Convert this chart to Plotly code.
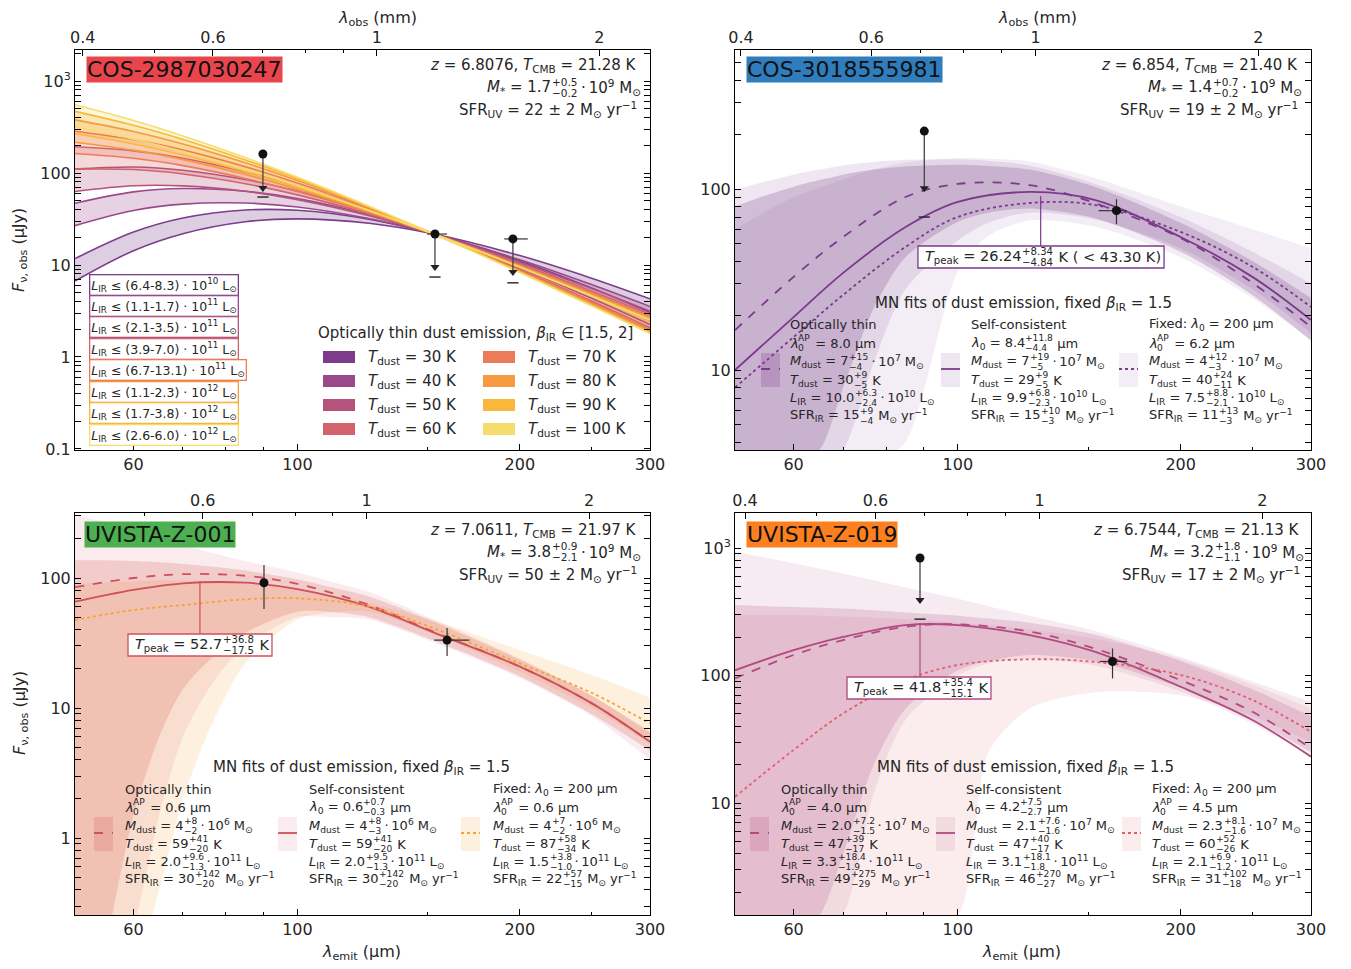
import math
import plotly.graph_objects as go

OFF = 8                      # default page margin of the html body
W, H = 1351 - OFF, 969 - OFF
FONT = "DejaVu Sans"
TXT = "#262626"

# ---------------- data ----------------
lam = [50, 60, 70, 85, 100, 125, 153, 200, 250, 300]
lam_band = [50, 55, 60, 65, 70, 77, 85, 100, 110, 125, 153, 200, 250, 300]

# Panel A: COS-2987030247, optically thin curves, beta 1.5 / 2
A_T30_b15 = [6.70, 14.3, 21.9, 29.5, 31.7, 28.4, 21.7, 12.65, 7.19, 4.29]
A_T30_b20 = [11.72, 22.8, 32.4, 39.6, 39.3, 31.4, 21.7, 11.07, 5.63, 3.06]
A_T40_b15 = [26.8, 39.1, 45.9, 47.2, 42.7, 31.9, 21.7, 11.39, 6.12, 3.54]
A_T40_b20 = [46.9, 62.4, 67.9, 63.4, 52.9, 35.3, 21.7, 9.97, 4.79, 2.53]
A_T50_b15 = [63.0, 72.7, 72.5, 63.2, 51.3, 34.3, 21.7, 10.68, 5.55, 3.15]
A_T50_b20 = [110.2, 116.1, 107.2, 84.9, 63.5, 37.9, 21.7, 9.35, 4.35, 2.25]
A_T60_b15 = [110.3, 109.0, 97.7, 76.5, 57.8, 35.9, 21.7, 10.25, 5.21, 2.92]
A_T60_b20 = [192.9, 174.1, 144.5, 102.7, 71.6, 39.7, 21.7, 8.96, 4.07, 2.08]
A_T70_b15 = [162.7, 144.4, 120.2, 87.3, 62.9, 37.1, 21.7, 9.95, 4.98, 2.77]
A_T70_b20 = [284.5, 230.6, 177.8, 117.2, 77.8, 41.1, 21.7, 8.70, 3.89, 1.98]
A_T80_b15 = [216.0, 177.1, 139.8, 96.2, 66.8, 38.0, 21.7, 9.74, 4.82, 2.66]
A_T80_b20 = [377.6, 282.9, 206.6, 129.1, 82.7, 42.1, 21.7, 8.52, 3.77, 1.90]
A_T90_b15 = [267.5, 206.7, 156.6, 103.4, 70.0, 38.7, 21.7, 9.58, 4.69, 2.58]
A_T90_b20 = [467.6, 330.1, 231.5, 138.8, 86.6, 42.8, 21.7, 8.38, 3.67, 1.84]
A_T100_b15 = [315.9, 233.1, 171.1, 109.5, 72.5, 39.3, 21.7, 9.45, 4.60, 2.52]
A_T100_b20 = [552.2, 372.2, 252.9, 147.0, 89.8, 43.5, 21.7, 8.27, 3.60, 1.80]
A_tdust = [30, 40, 50, 60, 70, 80, 90, 100]
A_colors = ["#7b3d8c", "#9a4a8a", "#b5537c", "#d3636c", "#ec7b59", "#f69a3f", "#f9b83b", "#f5dd6c"]
A_lir = ["(6.4-8.3) · 10<sup>10</sup>", "(1.1-1.7) · 10<sup>11</sup>", "(2.1-3.5) · 10<sup>11</sup>",
         "(3.9-7.0) · 10<sup>11</sup>", "(6.7-13.1) · 10<sup>11</sup>", "(1.1-2.3) · 10<sup>12</sup>",
         "(1.7-3.8) · 10<sup>12</sup>", "(2.6-6.0) · 10<sup>12</sup>"]
A_ul_lam = [89.8, 153.5, 195.7]
A_ul_val = [161, 21.7, 19.2]
A_ul_tip = [68.7, 9.5, 8.4]
A_ul_dash = [54.8, 7.4, 6.4]
A_ul_xerr_lo = [0, 3.7, 5.2]
A_ul_xerr_hi = [0, 5.9, 9.3]

# Panel B: COS-3018555981
B_thin = [16.6, 32.7, 54.3, 90.3, 106.6, 105.0, 83.7, 53.6, 30.3, 17.3]
B_sc = [10.0, 19.6, 34.4, 61.6, 84.8, 96.3, 87.0, 54.3, 32.7, 18.9]
B_fix = [8.0, 15.2, 26.0, 47.9, 70.1, 83.7, 81.6, 57.9, 37.2, 22.3]
B_thin_lo = [0.8, 1.8, 3.0, 3.6, 8, 22, 42, 66, 74, 78, 69, 45, 26, 14.5]
B_thin_hi = [80, 92, 103, 112, 120, 128, 133, 136, 134, 128, 103, 65, 40, 25]
B_sc_lo = [0.5, 1.0, 1.8, 2.7, 3.6, 11, 28, 52, 65, 74, 68, 47, 28, 16]
B_sc_hi = [99, 110, 120, 128, 135, 141, 145, 146, 143, 135, 107, 70, 45, 30]
B_fix_lo = [0.3, 0.6, 1.0, 1.5, 2.2, 3.0, 4.0, 35, 55, 67, 62, 42, 25, 14.7]
B_fix_hi = [60, 75, 90, 102, 113, 128, 140, 148, 147, 142, 115, 80, 60, 47]
B_ul_lam = [90.1]
B_ul_val = [209]
B_ul_tip = [101]
B_ul_dash = [70]
B_det_lam = [163.8]
B_det_val = [75.9]
B_det_yerr = [12]
B_det_yerr_lo = [12]
B_det_xerr_lo = [8.9]
B_det_xerr_hi = [5.3]
B_peak = [129.4, 91.5, 48.4]

# Panel C: UVISTA-Z-001
C_thin = [85.0, 100.0, 107.0, 104.0, 90.0, 62.0, 38.5, 20.8, 10.9, 5.5]
C_sc = [65.7, 81.0, 91.0, 92.0, 82.0, 60.0, 38.0, 20.8, 10.9, 5.5]
C_fix = [47.5, 56.7, 62.0, 68.5, 69.8, 60.2, 41.0, 22.0, 13.1, 7.6]
C_thin_lo = [0.02, 0.15, 1.5, 6, 14, 25, 38, 55, 55, 50, 33, 17.5, 9, 4.7]
C_thin_hi = [137, 137, 135, 132, 128, 122, 114, 98, 86, 72, 46, 23.5, 12.5, 6.6]
C_sc_lo = [0.01, 0.05, 0.2, 1.5, 6, 16, 30, 50, 50, 48, 32, 17, 8.7, 4.0]
C_sc_hi = [305, 270, 235, 205, 180, 155, 135, 110, 95, 78, 48, 24, 12.5, 6.4]
C_fix_lo = [0.005, 0.02, 0.08, 0.4, 2.0, 8, 22, 48, 54, 55, 37, 19, 10, 5.3]
C_fix_hi = [90, 92, 94, 96, 96, 94, 90, 82, 75, 64, 47, 28, 18, 12]
C_det_lam = [90.1, 159.4]
C_det_val = [92, 33.3]
C_det_yerr = [34, 8]
C_det_yerr_lo = [34.3, 8.2]
C_det_xerr_lo = [0, 6.3]
C_det_xerr_hi = [0, 11.5]
C_peak = [73.8, 95, 37.1]

# Panel D: UVISTA-Z-019
D_thin = [95, 145, 190, 241, 252, 221, 163, 92, 52, 26.9]
D_sc = [110, 158, 201, 249, 249, 208, 154, 81.7, 44.8, 23.1]
D_fix = [11.2, 26.1, 50.5, 92, 121, 134, 128, 101, 64.3, 36.2]
D_thin_lo = [0.3, 0.5, 0.9, 1.3, 4, 20, 55, 110, 130, 145, 130, 80, 45, 25]
D_thin_hi = [357, 350, 345, 340, 335, 325, 312, 295, 280, 260, 210, 130, 78, 48]
D_sc_lo = [0.2, 0.4, 0.7, 1.0, 1.35, 12, 45, 100, 125, 135, 120, 75, 42, 23]
D_sc_hi = [935, 840, 760, 690, 630, 560, 490, 400, 350, 295, 225, 140, 90, 62]
D_fix_lo = [0.05, 0.1, 0.15, 0.2, 0.3, 0.5, 0.8, 1.3, 25, 55, 74, 70, 48, 30]
D_fix_hi = [300, 300, 298, 295, 290, 284, 276, 260, 248, 230, 195, 135, 85, 55]
D_ul_lam = [88.9]
D_ul_val = [835]
D_ul_tip = [391]
D_ul_dash = [277]
D_det_lam = [161.8]
D_det_val = [129]
D_det_yerr = [34]
D_det_yerr_lo = [34]
D_det_xerr_lo = [6.2]
D_det_xerr_hi = [7.6]
D_peak = [88.9, 258, 97.3]

redshifts = [6.8076, 6.854, 7.0611, 6.7544]
names = ["COS-2987030247", "COS-3018555981", "UVISTA-Z-001", "UVISTA-Z-019"]
name_colors = ["#e8454d", "#2f7dbd", "#4caf50", "#fd8020"]

DOT = "\u2009·\u2009"
MSUN = " M<sub>⊙</sub>"
LSUN = " L<sub>⊙</sub>"
YR = " M<sub>⊙</sub> yr<sup>−1</sup>"
MD = "<i>M</i><sub>dust</sub> = "
TD = "<i>T</i><sub>dust</sub> = "
LI = "<i>L</i><sub>IR</sub> = "
SF = "SFR<sub>IR</sub> = "
L0 = "<i>λ</i><sub>0</sub> = "

# a row is either plain text or (prefix, upper script, lower script, suffix)
info_text = [
    ["<i>z</i> = 6.8076, <i>T</i><sub>CMB</sub> = 21.28 K",
     ("<i>M</i><sub>*</sub> = 1.7", "+0.5", "−0.2", DOT + "10<sup>9</sup>" + MSUN),
     "SFR<sub>UV</sub> = 22 ± 2 M<sub>⊙</sub> yr<sup>−1</sup>"],
    ["<i>z</i> = 6.854, <i>T</i><sub>CMB</sub> = 21.40 K",
     ("<i>M</i><sub>*</sub> = 1.4", "+0.7", "−0.2", DOT + "10<sup>9</sup>" + MSUN),
     "SFR<sub>UV</sub> = 19 ± 2 M<sub>⊙</sub> yr<sup>−1</sup>"],
    ["<i>z</i> = 7.0611, <i>T</i><sub>CMB</sub> = 21.97 K",
     ("<i>M</i><sub>*</sub> = 3.8", "+0.9", "−2.1", DOT + "10<sup>9</sup>" + MSUN),
     "SFR<sub>UV</sub> = 50 ± 2 M<sub>⊙</sub> yr<sup>−1</sup>"],
    ["<i>z</i> = 6.7544, <i>T</i><sub>CMB</sub> = 21.13 K",
     ("<i>M</i><sub>*</sub> = 3.2", "+1.8", "−1.1", DOT + "10<sup>9</sup>" + MSUN),
     "SFR<sub>UV</sub> = 17 ± 2 M<sub>⊙</sub> yr<sup>−1</sup>"],
]

B_leg = [
    ["Optically thin", ("<i>λ</i>", "AP", "0", " = 8.0 µm"),
     (MD + "7", "+15", "−4", DOT + "10<sup>7</sup>" + MSUN),
     (TD + "30", "+9", "−5", " K"),
     (LI + "10.0", "+6.3", "−2.4", DOT + "10<sup>10</sup>" + LSUN),
     (SF + "15", "+9", "−4", YR)],
    ["Self-consistent", (L0 + "8.4", "+11.8", "−4.4", " µm"),
     (MD + "7", "+19", "−5", DOT + "10<sup>7</sup>" + MSUN),
     (TD + "29", "+9", "−5", " K"),
     (LI + "9.9", "+6.8", "−2.3", DOT + "10<sup>10</sup>" + LSUN),
     (SF + "15", "+10", "−3", YR)],
    ["Fixed: <i>λ</i><sub>0</sub> = 200 µm", ("<i>λ</i>", "AP", "0", " = 6.2 µm"),
     (MD + "4", "+12", "−3", DOT + "10<sup>7</sup>" + MSUN),
     (TD + "40", "+24", "−11", " K"),
     (LI + "7.5", "+8.8", "−2.1", DOT + "10<sup>10</sup>" + LSUN),
     (SF + "11", "+13", "−3", YR)],
]
C_leg = [
    ["Optically thin", ("<i>λ</i>", "AP", "0", " = 0.6 µm"),
     (MD + "4", "+8", "−2", DOT + "10<sup>6</sup>" + MSUN),
     (TD + "59", "+41", "−20", " K"),
     (LI + "2.0", "+9.6", "−1.3", DOT + "10<sup>11</sup>" + LSUN),
     (SF + "30", "+142", "−20", YR)],
    ["Self-consistent", (L0 + "0.6", "+0.7", "−0.3", " µm"),
     (MD + "4", "+8", "−3", DOT + "10<sup>6</sup>" + MSUN),
     (TD + "59", "+41", "−20", " K"),
     (LI + "2.0", "+9.5", "−1.3", DOT + "10<sup>11</sup>" + LSUN),
     (SF + "30", "+142", "−20", YR)],
    ["Fixed: <i>λ</i><sub>0</sub> = 200 µm", ("<i>λ</i>", "AP", "0", " = 0.6 µm"),
     (MD + "4", "+7", "−2", DOT + "10<sup>6</sup>" + MSUN),
     (TD + "87", "+58", "−34", " K"),
     (LI + "1.5", "+3.8", "−1.0", DOT + "10<sup>11</sup>" + LSUN),
     (SF + "22", "+57", "−15", YR)],
]
D_leg = [
    ["Optically thin", ("<i>λ</i>", "AP", "0", " = 4.0 µm"),
     (MD + "2.0", "+7.2", "−1.5", DOT + "10<sup>7</sup>" + MSUN),
     (TD + "47", "+39", "−17", " K"),
     (LI + "3.3", "+18.4", "−1.9", DOT + "10<sup>11</sup>" + LSUN),
     (SF + "49", "+275", "−29", YR)],
    ["Self-consistent", (L0 + "4.2", "+7.5", "−2.7", " µm"),
     (MD + "2.1", "+7.6", "−1.6", DOT + "10<sup>7</sup>" + MSUN),
     (TD + "47", "+40", "−17", " K"),
     (LI + "3.1", "+18.1", "−1.8", DOT + "10<sup>11</sup>" + LSUN),
     (SF + "46", "+270", "−27", YR)],
    ["Fixed: <i>λ</i><sub>0</sub> = 200 µm", ("<i>λ</i>", "AP", "0", " = 4.5 µm"),
     (MD + "2.3", "+8.1", "−1.6", DOT + "10<sup>7</sup>" + MSUN),
     (TD + "60", "+52", "−26", " K"),
     (LI + "2.1", "+6.9", "−1.2", DOT + "10<sup>11</sup>" + LSUN),
     (SF + "31", "+102", "−18", YR)],
]
tpeak_text = [("<i>T</i><sub>peak</sub> = 26.24", "+8.34", "−4.84", " K ( < 43.30 K)"),
              ("<i>T</i><sub>peak</sub> = 52.7", "+36.8", "−17.5", " K"),
              ("<i>T</i><sub>peak</sub> = 41.8", "+35.4", "−15.1", " K")]

# ---------------- helpers ----------------
fig = go.Figure()
annotations = []
shapes = []

# DejaVu Sans advance widths (em)
CW = {" ": 0.318, "\u00a0": 0.318, "\u2009": 0.2, ".": 0.318, ",": 0.318, ":": 0.337, "=": 0.838,
      "+": 0.838, "−": 0.838, "-": 0.361, "±": 0.838, "·": 0.318, "(": 0.39, ")": 0.39, "<": 0.838,
      "*": 0.5, "⊙": 0.838, "µ": 0.636, "λ": 0.592, "ν": 0.592, "β": 0.635,
      "A": 0.684, "B": 0.686, "C": 0.698, "D": 0.77, "E": 0.632, "F": 0.575, "G": 0.775, "H": 0.752,
      "I": 0.295, "K": 0.656, "L": 0.557, "M": 0.863, "N": 0.748, "O": 0.787, "P": 0.603, "R": 0.695,
      "S": 0.635, "T": 0.611, "U": 0.732, "V": 0.684, "a": 0.613, "b": 0.635, "c": 0.55, "d": 0.635,
      "e": 0.615, "f": 0.352, "g": 0.635, "h": 0.634, "i": 0.278, "k": 0.579, "l": 0.278, "m": 0.974,
      "n": 0.634, "o": 0.612, "p": 0.635, "r": 0.411, "s": 0.521, "t": 0.392, "u": 0.634, "x": 0.592,
      "y": 0.592, "z": 0.525}
for _d in "0123456789":
    CW[_d] = 0.636


def tw(html, size):
    w, scale, i = 0.0, 1.0, 0
    while i < len(html):
        if html[i] == "<" and ">" in html[i:] and html[i + 1:html.index(">", i)] in ("i", "/i", "sub", "/sub", "sup", "/sup"):
            j = html.index(">", i)
            tag = html[i + 1:j]
            if tag in ("sub", "sup"):
                scale = 0.7
            elif tag in ("/sub", "/sup"):
                scale = 1.0
            i = j + 1
            continue
        w += CW.get(html[i], 0.6) * size * scale
        i += 1
    return w


def pxx(x):
    return (x - OFF) / W


def pyy(y):
    return 1 - (y - OFF) / H


def ann(x, y, text, size=15, xanchor="left", yanchor="middle", color=TXT, **kw):
    d = dict(x=pxx(x), y=pyy(y), xref="paper", yref="paper", text=text, showarrow=False,
             xanchor=xanchor, yanchor=yanchor, font=dict(family=FONT, size=size, color=color))
    d.update(kw)
    annotations.append(d)


def rich(x, y, row, size, anchor="left"):
    if isinstance(row, str):
        ann(x, y, row, size=size, xanchor=anchor)
        return tw(row, size)
    pre, up, lo, suf = row
    suf = suf.replace(" ", "\u00a0")
    ss = 0.7 * size
    w_pre = tw(pre, size)
    w_pair = max(tw(up, ss), tw(lo, ss)) + 0.1 * size
    w_suf = tw(suf, size)
    total = w_pre + w_pair + w_suf
    x0 = x if anchor == "left" else (x - total if anchor == "right" else x - total / 2)
    ann(x0, y, pre, size=size)
    ann(x0 + w_pre + 0.05 * size, y - 0.37 * size, up, size=ss)
    ann(x0 + w_pre + 0.05 * size, y + 0.36 * size, lo, size=ss)
    ann(x0 + w_pre + w_pair, y, suf, size=size)
    return total


def line_trace(xa, ya, ys, color, dash="solid", width=1.8):
    fig.add_trace(go.Scatter(x=lam, y=ys, xaxis=xa, yaxis=ya, mode="lines",
                             line=dict(color=color, width=width, dash=dash, shape="spline", smoothing=1.0),
                             hoverinfo="skip", showlegend=False))


def band_trace(xa, ya, xs, lo, hi, fillcolor):
    fig.add_trace(go.Scatter(x=xs, y=lo, xaxis=xa, yaxis=ya, mode="lines",
                             line=dict(width=0, shape="spline", smoothing=0.8), hoverinfo="skip",
                             showlegend=False))
    fig.add_trace(go.Scatter(x=xs, y=hi, xaxis=xa, yaxis=ya, mode="lines", fill="tonexty",
                             fillcolor=fillcolor, line=dict(width=0, shape="spline", smoothing=0.8),
                             hoverinfo="skip", showlegend=False))


def ulims(xa, ya, lams, vals, tips, dashes, xlo=None, xhi=None):
    for i in range(len(lams)):
        fig.add_trace(go.Scatter(x=[lams[i], lams[i]], y=[vals[i], tips[i]], xaxis=xa, yaxis=ya,
                                 mode="lines", line=dict(color="#444", width=1.3),
                                 hoverinfo="skip", showlegend=False))
        fig.add_trace(go.Scatter(x=[lams[i]], y=[tips[i]], xaxis=xa, yaxis=ya, mode="markers",
                                 marker=dict(symbol="triangle-down", size=8, color="#222"),
                                 hoverinfo="skip", showlegend=False))
        fig.add_trace(go.Scatter(x=[lams[i]], y=[dashes[i]], xaxis=xa, yaxis=ya, mode="markers",
                                 marker=dict(symbol="line-ew", size=8, line=dict(width=1.4, color="#222")),
                                 hoverinfo="skip", showlegend=False))
        ex = None
        if xlo is not None and xhi[i] > 0:
            ex = dict(type="data", symmetric=False, array=[xhi[i]], arrayminus=[xlo[i]],
                      color="#333", thickness=1.2, width=0)
        fig.add_trace(go.Scatter(x=[lams[i]], y=[vals[i]], xaxis=xa, yaxis=ya, mode="markers",
                                 marker=dict(symbol="circle", size=9, color="#111"), error_x=ex,
                                 hoverinfo="skip", showlegend=False))


def dets(xa, ya, lams, vals, ehi, elo, xlo, xhi):
    fig.add_trace(go.Scatter(x=lams, y=vals, xaxis=xa, yaxis=ya, mode="markers",
                             marker=dict(symbol="circle", size=9, color="#111"),
                             error_y=dict(type="data", symmetric=False, array=ehi, arrayminus=elo,
                                          color="#333", thickness=1.2, width=0),
                             error_x=dict(type="data", symmetric=False, array=xhi, arrayminus=xlo,
                                          color="#333", thickness=1.2, width=0),
                             hoverinfo="skip", showlegend=False))


def peak_line(xa, ya, pk, color):
    fig.add_trace(go.Scatter(x=[pk[0], pk[0]], y=[pk[1], pk[2]], xaxis=xa, yaxis=ya, mode="lines",
                             line=dict(color=color, width=1.2), hoverinfo="skip", showlegend=False))


def rgba(hexc, a):
    h = hexc.lstrip("#")
    return "rgba(%d,%d,%d,%.3f)" % (int(h[0:2], 16), int(h[2:4], 16), int(h[4:6], 16), a)


# ---- panel A ----
A_b15 = [A_T30_b15, A_T40_b15, A_T50_b15, A_T60_b15, A_T70_b15, A_T80_b15, A_T90_b15, A_T100_b15]
A_b20 = [A_T30_b20, A_T40_b20, A_T50_b20, A_T60_b20, A_T70_b20, A_T80_b20, A_T90_b20, A_T100_b20]
for i in range(len(A_tdust)):
    band_trace("x", "y", lam, A_b15[i], A_b20[i], rgba(A_colors[i], 0.25))
for i in range(len(A_tdust)):
    line_trace("x", "y", A_b15[i], A_colors[i], width=1.6)
    line_trace("x", "y", A_b20[i], A_colors[i], width=1.6)
ulims("x", "y", A_ul_lam, A_ul_val, A_ul_tip, A_ul_dash, A_ul_xerr_lo, A_ul_xerr_hi)

# ---- panel B ----
Bc = "#7b3a8b"
B_fill = [rgba(Bc, 0.24), rgba(Bc, 0.13), rgba(Bc, 0.09)]
band_trace("x2", "y2", lam_band, B_fix_lo, B_fix_hi, B_fill[2])
band_trace("x2", "y2", lam_band, B_sc_lo, B_sc_hi, B_fill[1])
band_trace("x2", "y2", lam_band, B_thin_lo, B_thin_hi, B_fill[0])
line_trace("x2", "y2", B_thin, Bc, "dash")
line_trace("x2", "y2", B_sc, Bc, "solid")
line_trace("x2", "y2", B_fix, Bc, "dot")
peak_line("x2", "y2", B_peak, Bc)
ulims("x2", "y2", B_ul_lam, B_ul_val, B_ul_tip, B_ul_dash)
dets("x2", "y2", B_det_lam, B_det_val, B_det_yerr, B_det_yerr_lo, B_det_xerr_lo, B_det_xerr_hi)

# ---- panel C ----
Cc = "#d0505a"
Cf = "#f7a233"
C_fill = ["rgba(214,92,80,0.22)", "rgba(208,80,100,0.11)", "rgba(247,162,51,0.16)"]
band_trace("x3", "y3", lam_band, C_fix_lo, C_fix_hi, C_fill[2])
band_trace("x3", "y3", lam_band, C_sc_lo, C_sc_hi, C_fill[1])
band_trace("x3", "y3", lam_band, C_thin_lo, C_thin_hi, C_fill[0])
line_trace("x3", "y3", C_thin, Cc, "dash")
line_trace("x3", "y3", C_sc, Cc, "solid")
line_trace("x3", "y3", C_fix, Cf, "dot")
peak_line("x3", "y3", C_peak, Cc)
dets("x3", "y3", C_det_lam, C_det_val, C_det_yerr, C_det_yerr_lo, C_det_xerr_lo, C_det_xerr_hi)

# ---- panel D ----
Dc = "#b04a80"
Df = "#e2606c"
D_fill = [rgba(Dc, 0.20), rgba(Dc, 0.11), "rgba(226,96,108,0.12)"]
band_trace("x4", "y4", lam_band, D_fix_lo, D_fix_hi, D_fill[2])
band_trace("x4", "y4", lam_band, D_sc_lo, D_sc_hi, D_fill[1])
band_trace("x4", "y4", lam_band, D_thin_lo, D_thin_hi, D_fill[0])
line_trace("x4", "y4", D_thin, Dc, "dash")
line_trace("x4", "y4", D_sc, Dc, "solid")
line_trace("x4", "y4", D_fix, Df, "dot")
peak_line("x4", "y4", D_peak, Dc)
ulims("x4", "y4", D_ul_lam, D_ul_val, D_ul_tip, D_ul_dash)
dets("x4", "y4", D_det_lam, D_det_val, D_det_yerr, D_det_yerr_lo, D_det_xerr_lo, D_det_xerr_hi)

# dummy traces for top axes
for i in range(4):
    fig.add_trace(go.Scatter(x=[1.0], y=[30], xaxis="x%d" % (i + 5), yaxis="y%d" % (i + 1) if i else "y",
                             mode="markers", marker=dict(opacity=0), hoverinfo="skip", showlegend=False))

# ---------------- axes ----------------
XD = [[pxx(75), pxx(650)], [pxx(735), pxx(1311)], [pxx(75), pxx(650)], [pxx(735), pxx(1311)]]
YD = [[pyy(450), pyy(50)], [pyy(450), pyy(50)], [pyy(915), pyy(513)], [pyy(915), pyy(513)]]
YRANGE = [[-1.011, 3.337], [0.558, 2.768], [-0.592, 2.5], [0.122, 3.275]]
ytv = [[0.1, 1, 10, 100, 1000], [10, 100], [1, 10, 100], [10, 100, 1000]]
ytt = [["0.1", "1", "10", "100", "10<sup>3</sup>"], ["10", "100"], ["1", "10", "100"], ["10", "100", "10<sup>3</sup>"]]
yminor = [m * 10 ** e for e in range(-2, 4) for m in range(2, 10)]
tickfont = dict(family=FONT, size=16, color=TXT)

lay = {}
for i in range(4):
    s = "" if i == 0 else str(i + 1)
    lay["xaxis" + s] = dict(type="log", range=[math.log10(50), math.log10(300)], domain=XD[i],
                            anchor="y" + s, tickvals=[60, 100, 200, 300], ticktext=["60", "100", "200", "300"],
                            ticks="inside", ticklen=6, tickwidth=1, tickcolor="black",
                            showline=True, linecolor="black", linewidth=1, showgrid=False, zeroline=False,
                            tickfont=tickfont, automargin=False,
                            minor=dict(tickvals=[50, 70, 80, 90, 150, 250], ticks="inside", ticklen=3,
                                       tickcolor="black", showgrid=False))
    z = redshifts[i]
    lay["xaxis%d" % (i + 5)] = dict(type="log", overlaying="x" + s, anchor="y" + s, side="top",
                                    range=[math.log10(50 * (1 + z) / 1000), math.log10(300 * (1 + z) / 1000)],
                                    tickvals=[0.4, 0.6, 1, 2], ticktext=["0.4", "0.6", "1", "2"],
                                    ticks="inside", ticklen=6, tickcolor="black", showline=True,
                                    linecolor="black", showgrid=False, zeroline=False, tickfont=tickfont,
                                    automargin=False,
                                    minor=dict(tickvals=[0.5, 0.7, 0.8, 0.9], ticks="inside", ticklen=3,
                                               tickcolor="black", showgrid=False))
    lay["yaxis" + s] = dict(type="log", range=YRANGE[i], domain=YD[i], anchor="x" + s,
                            tickvals=ytv[i], ticktext=ytt[i], ticks="inside", ticklen=6, tickcolor="black",
                            showline=True, linecolor="black", mirror="allticks", showgrid=False,
                            zeroline=False, tickfont=tickfont, automargin=False,
                            minor=dict(tickvals=yminor, ticks="inside", ticklen=3, tickcolor="black",
                                       showgrid=False))

# axis titles
ann(377, 18, "<i>λ</i><sub>obs</sub> (mm)", size=16, xanchor="center")
ann(1037, 18, "<i>λ</i><sub>obs</sub> (mm)", size=16, xanchor="center")
ann(362, 952, "<i>λ</i><sub>emit</sub> (µm)", size=16, xanchor="center")
ann(1022, 952, "<i>λ</i><sub>emit</sub> (µm)", size=16, xanchor="center")
ann(20, 250, "<i>F</i><sub>ν, obs</sub> (µJy)", size=16, xanchor="center", textangle=-90)
ann(20, 713, "<i>F</i><sub>ν, obs</sub> (µJy)", size=16, xanchor="center", textangle=-90)

# name labels
name_pos = [(86, 70), (746, 70), (84, 534), (746, 534)]
for i in range(4):
    ann(name_pos[i][0], name_pos[i][1], names[i], size=22, color="#111", bgcolor=name_colors[i], borderpad=0)

# info text
info_pos = [(639, [66, 88, 110]), (1300, [66, 88, 110]), (639, [530, 552, 574]), (1302, [530, 552, 574])]
for i in range(4):
    for j in range(3):
        rich(info_pos[i][0], info_pos[i][1][j], info_text[i][j], 15, anchor="right")

# panel A LIR boxes
lir_y = [285, 306, 327, 349, 370, 392, 413, 435]
for i in range(8):
    ann(89, lir_y[i], "<i>L</i><sub>IR</sub> ≤ " + A_lir[i] + " L<sub>⊙</sub>", size=12.5,
        bordercolor=A_colors[i], borderwidth=1.3, borderpad=1, bgcolor="white")

# panel A legend
ann(475, 333, "Optically thin dust emission, <i>β</i><sub>IR</sub> ∈ [1.5, 2]", size=15, xanchor="center")
rows = [357, 381, 405, 429]
for i in range(8):
    col = i // 4
    r = rows[i % 4]
    x0 = 323 if col == 0 else 483
    shapes.append(dict(type="rect", xref="paper", yref="paper", x0=pxx(x0), x1=pxx(x0 + 32),
                       y0=pyy(r + 6), y1=pyy(r - 6), fillcolor=A_colors[i], line=dict(width=0)))
    ann(x0 + 43, r, "<i>T</i><sub>dust</sub> = %d K" % A_tdust[i], size=15)


# MN legends
def mn_legend(cx_title, ytitle, colx, patchx, rows_y, texts, patch_colors, line_colors, dashes):
    ann(cx_title, ytitle, "MN fits of dust emission, fixed <i>β</i><sub>IR</sub> = 1.5", size=15, xanchor="center")
    for c in range(3):
        for r in range(6):
            rich(colx[c], rows_y[r], texts[c][r], 13)
        shapes.append(dict(type="rect", xref="paper", yref="paper", x0=pxx(patchx[c]), x1=pxx(patchx[c] + 19),
                           y0=pyy(rows_y[2] + 25), y1=pyy(rows_y[2] - 9), fillcolor=patch_colors[c],
                           line=dict(width=0)))
        ym = pyy(rows_y[2] + 7)
        shapes.append(dict(type="line", xref="paper", yref="paper", x0=pxx(patchx[c]), x1=pxx(patchx[c] + 19),
                           y0=ym, y1=ym, line=dict(color=line_colors[c], width=1.8, dash=dashes[c])))


mn_legend(1023, 303, [788, 969, 1147], [761, 941, 1119], [324, 343, 362, 380, 398, 416], B_leg,
          B_fill, [Bc, Bc, Bc], ["dash", "solid", "dot"])
mn_legend(362, 767, [123, 307, 491], [94, 278, 461], [789, 807, 826, 844, 862, 879], C_leg,
          C_fill, [Cc, Cc, Cf], ["dash", "solid", "dot"])
mn_legend(1025, 767, [779, 964, 1150], [750, 936, 1122], [789, 807, 826, 844, 862, 879], D_leg,
          D_fill, [Dc, Dc, Df], ["dash", "solid", "dot"])

# T_peak boxes
tpeak_pos = [(1041, 257), (200, 645), (919, 688)]
tpeak_col = [Bc, Cc, Dc]
for i in range(3):
    cx, cy = tpeak_pos[i]
    ssz = 14.5
    tot = tw(tpeak_text[i][0], ssz) + max(tw(tpeak_text[i][1], 0.7 * ssz), tw(tpeak_text[i][2], 0.7 * ssz)) \
        + 0.1 * ssz + tw(tpeak_text[i][3], ssz)
    shapes.append(dict(type="rect", xref="paper", yref="paper", x0=pxx(cx - tot / 2 - 5), x1=pxx(cx + tot / 2 + 5),
                       y0=pyy(cy + 11), y1=pyy(cy - 11), fillcolor="white",
                       line=dict(color=tpeak_col[i], width=1.3)))
    rich(cx, cy, tpeak_text[i], ssz, anchor="center")

fig.update_layout(width=W, height=H, margin=dict(l=0, r=0, t=0, b=0), plot_bgcolor="white",
                  paper_bgcolor="white", showlegend=False, annotations=annotations, shapes=shapes,
                  font=dict(family=FONT, color=TXT), **lay)
fig.write_html("out.html")
